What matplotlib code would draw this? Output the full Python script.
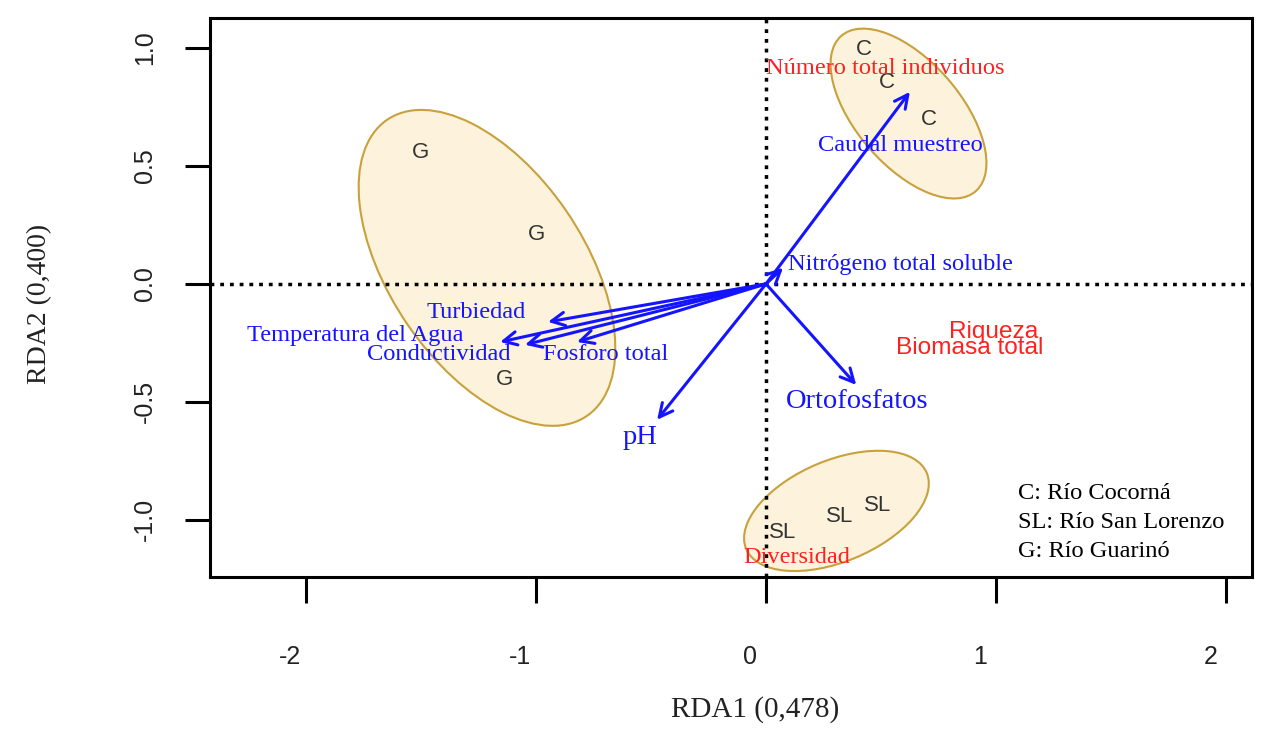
import numpy as np
import matplotlib
matplotlib.use("Agg")
import matplotlib.pyplot as plt
from matplotlib.patches import Ellipse
from matplotlib.transforms import ScaledTranslation

# sitios (scores de sitios)
site_labels = ["C", "C", "C", "G", "G", "G", "SL", "SL", "SL"]
site_x = [0.426, 0.526, 0.708, -1.503, -0.995, -1.134, 0.074, 0.321, 0.486]
site_y = [0.992, 0.852, 0.695, 0.555, 0.208, -0.407, -1.055, -0.987, -0.941]

# variables ambientales (flechas)
env_names = ["Caudal muestreo", "Nitrógeno total soluble", "Turbiedad",
             "Temperatura del Agua", "Conductividad", "Fosforo total",
             "pH", "Ortofosfatos"]
env_x = [0.625, 0.074, -0.947, -1.155, -1.047, -0.821, -0.473, 0.392]
env_y = [0.814, 0.068, -0.161, -0.246, -0.258, -0.246, -0.576, -0.428]
env_lab_x = [0.582, 0.586, -1.259, -1.785, -1.420, -0.695, -0.547, 0.398]
env_lab_y = [0.585, 0.081, -0.123, -0.220, -0.301, -0.301, -0.653, -0.500]
env_size = [17.6, 17.6, 17.6, 17.6, 17.6, 17.6, 20.5, 20.5]

# variables respuesta
resp_names = ["Número total individuos", "Riqueza", "Biomasa total", "Diversidad"]
resp_x = [0.517, 0.990, 0.886, 0.135]
resp_y = [0.915, -0.203, -0.271, -1.161]
resp_font = ["Liberation Serif", "Liberation Sans", "Liberation Sans", "Liberation Serif"]

# elipses por río (C, G, SL)
ell_x = [0.619, -1.212, 0.306]
ell_y = [0.722, 0.068, -0.962]
ell_w = [0.88, 1.526, 0.848]
ell_h = [0.45, 0.841, 0.43]
ell_ang = [-48, -54.9, 22]

legend_lines = ["C: Río Cocorná", "SL: Río San Lorenzo", "G: Río Guarinó"]
xticks = [-2, -1, 0, 1, 2]
yticks = [-1.0, -0.5, 0.0, 0.5, 1.0]

blue = "#1414ff"
red = "#ff2020"

fig = plt.figure(figsize=(12.7, 7.4), dpi=100)
ax = fig.add_axes([0.1654, 0.2203, 0.8204, 0.7554])
ax.set_xlim(-2.415, 2.111)
ax.set_ylim(-1.242, 1.127)

for cx, cy, w, h, a in zip(ell_x, ell_y, ell_w, ell_h, ell_ang):
    ax.add_patch(Ellipse((cx, cy), w, h, angle=a, facecolor="#fdf3dc",
                         edgecolor="#c9a13c", lw=1.5, zorder=1))

ax.axhline(0, color="black", lw=2.5, ls=(0, (1.1, 1.7)), zorder=2)
ax.axvline(0, color="black", lw=2.5, ls=(0, (1.1, 1.7)), zorder=2)

for lab, x, y in zip(site_labels, site_x, site_y):
    ax.text(x, y, lab, ha="center", va="center", fontsize=16,
            family="Liberation Sans", color="#333333", zorder=3)

for name, x, y, lx, ly, fs in zip(env_names, env_x, env_y, env_lab_x, env_lab_y, env_size):
    ax.annotate("", xy=(x, y), xytext=(0, 0),
                arrowprops=dict(arrowstyle="->", color=blue, lw=2.2,
                                mutation_scale=24, shrinkA=0, shrinkB=0),
                zorder=4)
    ax.text(lx, ly, name, ha="center", va="center", fontsize=fs,
            family="Liberation Serif", color=blue, zorder=5)

for name, x, y, fam in zip(resp_names, resp_x, resp_y, resp_font):
    ax.text(x, y, name, ha="center", va="center", fontsize=17.6,
            family=fam, color=red, zorder=5)

for i, line in enumerate(legend_lines):
    ax.text(1.094, -0.889 - 0.123 * i, line, ha="left", va="center",
            fontsize=17.6, family="Liberation Serif", color="black")

for sp in ax.spines.values():
    sp.set_linewidth(2.2)

ax.set_xticks(xticks)
ax.set_xticklabels([str(t) for t in xticks])
ax.set_yticks(yticks)
ax.set_yticklabels([f"{t:.1f}" for t in yticks])
ax.tick_params(axis="x", length=18.7, width=2.2, pad=30, labelsize=18)
ax.tick_params(axis="y", length=18, width=2.2, pad=20, labelsize=18)
for lab in ax.get_xticklabels() + ax.get_yticklabels():
    lab.set_family("Liberation Sans")
    lab.set_color("#222222")
for lab in ax.get_yticklabels():
    lab.set_rotation(90)
    lab.set_va("center")
shift = ScaledTranslation(-16 / 100, 0, fig.dpi_scale_trans)
for lab in ax.get_xticklabels():
    lab.set_transform(lab.get_transform() + shift)

fig.text(755 / 1270, 1 - 710 / 740, "RDA1 (0,478)", ha="center", va="center",
         fontsize=21, family="Liberation Serif", color="#222222")
fig.text(40 / 1270, 1 - 304 / 740, "RDA2 (0,400)", ha="center", va="center",
         rotation=90, fontsize=20, family="Liberation Serif", color="#222222")

fig.savefig("out.png", dpi=100, facecolor="white")
